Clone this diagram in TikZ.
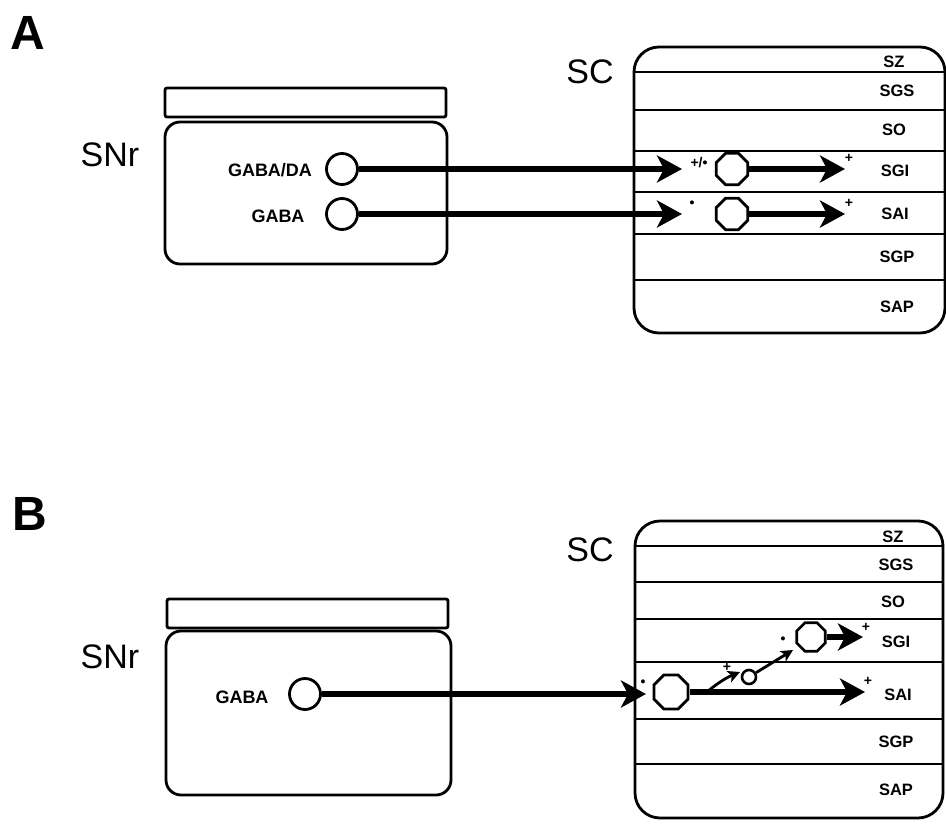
\documentclass[tikz,border=0pt]{standalone}
\usepackage{fontspec}
\setmainfont{Liberation Sans}
\usetikzlibrary{arrows.meta,shapes.geometric}
\begin{document}
\begin{tikzpicture}[x=1pt,y=-1pt,
  frame/.style={draw,line width=2.8pt},
  layerline/.style={line width=2.6pt},
  layerlab/.style={font=\fontsize{16.5}{16.5}\selectfont\bfseries,inner sep=0pt},
  panellab/.style={font=\fontsize{48}{48}\selectfont\bfseries,inner sep=0pt},
  arealab/.style={font=\fontsize{34}{34}\selectfont,inner sep=0pt},
  celllab/.style={font=\fontsize{18}{18}\selectfont\bfseries,inner sep=0pt},
  cellc/.style={circle,draw,line width=2.8pt,minimum size=31pt,inner sep=0pt},
  cello/.style={regular polygon,regular polygon sides=8,draw,line width=2.8pt,minimum size=34pt,inner sep=0pt},
  cellsmall/.style={circle,draw,line width=2.6pt,minimum size=14pt,inner sep=0pt},
  axon/.style={line width=5.5pt,-{Stealth[length=25pt,width=27pt,inset=7pt]}},
  thinaxon/.style={line width=2.8pt,-{Stealth[length=12pt,width=12pt,inset=3pt]}},
  sign/.style={font=\fontsize{14}{14}\selectfont\bfseries,inner sep=0pt}
]
\useasboundingbox (0,0) rectangle (946,825);

% ================= Panel A =================
\node[panellab] (labA) at (28,33) {A};
\node[arealab] (snrA) at (110,155) {SNr};
\draw[frame,rounded corners=2pt] (165,88) rectangle (446,117);
\draw[frame,rounded corners=15pt] (165,122) rectangle (447,264);
\node[celllab] (gabadaA) at (270,170) {GABA/DA};
\node[cellc] (cA1) at (342,169) {};
\node[celllab] (gabaA) at (278,216) {GABA};
\node[cellc] (cA2) at (342,214) {};

\node[arealab] (scA) at (590,72) {SC};
\draw[frame,rounded corners=25pt] (634,47) rectangle (945,333);
\foreach \yy in {72,110,151,192,234,280}
  \draw[layerline] (634,\yy) -- (945,\yy);
\node[layerlab] (szA)  at (894,62)  {SZ};
\node[layerlab] (sgsA) at (897,91)  {SGS};
\node[layerlab] (soA)  at (894,130) {SO};
\node[layerlab] (sgiA) at (895,171) {SGI};
\node[layerlab] (saiA) at (895,214) {SAI};
\node[layerlab] (sgpA) at (897,257) {SGP};
\node[layerlab] (sapA) at (897,307) {SAP};

\coordinate (tA1) at (682,169);
\coordinate (tA2) at (682,214);
\node[cello] (oA1) at (732,169) {};
\node[cello] (oA2) at (732,214) {};
\coordinate (tA3) at (845,169);
\coordinate (tA4) at (845,214);

\draw[axon] (cA1) -- (tA1);
\draw[axon] (cA2) -- (tA2);
\draw[axon] (oA1) -- (tA3);
\draw[axon] (oA2) -- (tA4);

\node[sign] (sA1) at (699,163) {+/•};
\node[sign] (sA2) at (692,204) {•};
\node[sign] (sA3) at (849,158) {+};
\node[sign] (sA4) at (849,203) {+};

% ================= Panel B =================
\node[panellab] (labB) at (30,514) {B};
\node[arealab] (snrB) at (110,657) {SNr};
\draw[frame,rounded corners=2pt] (167,599) rectangle (448,628);
\draw[frame,rounded corners=15pt] (166,631) rectangle (451,795);
\node[celllab] (gabaB) at (242,697) {GABA};
\node[cellc] (cB) at (305,694) {};

\node[arealab] (scB) at (590,550) {SC};
\draw[frame,rounded corners=25pt] (635,521) rectangle (943,818);
\foreach \yy in {546,582,619,662,719,764}
  \draw[layerline] (635,\yy) -- (943,\yy);
\node[layerlab] (szB)  at (893,537) {SZ};
\node[layerlab] (sgsB) at (896,565) {SGS};
\node[layerlab] (soB)  at (893,602) {SO};
\node[layerlab] (sgiB) at (896,642) {SGI};
\node[layerlab] (saiB) at (898,695) {SAI};
\node[layerlab] (sgpB) at (896,742) {SGP};
\node[layerlab] (sapB) at (896,790) {SAP};

\coordinate (tB1) at (646,694);
\node[cello,minimum size=37pt] (oB1) at (671,692) {};
\coordinate (tB2) at (865,692);
\coordinate (brB) at (708,691);
\coordinate (tB3) at (740,672);
\node[cellsmall] (csB) at (749,677) {};
\coordinate (tB4) at (793,650);
\node[cello,minimum size=31pt] (oB2) at (811,637) {};
\coordinate (tB5) at (863,637);

\draw[axon] (cB) -- (tB1);
\draw[axon] (oB1) -- (tB2);
\draw[thinaxon] (brB) to[bend left=8] (tB3);
\draw[thinaxon] (csB) -- (tB4);
\draw[axon] (oB2) -- (tB5);

\node[sign] (sB1) at (643,683) {•};
\node[sign] (sB2) at (727,667) {+};
\node[sign] (sB3) at (783,640) {•};
\node[sign] (sB4) at (868,681) {+};
\node[sign] (sB5) at (866,627) {+};
\end{tikzpicture}
\end{document}
